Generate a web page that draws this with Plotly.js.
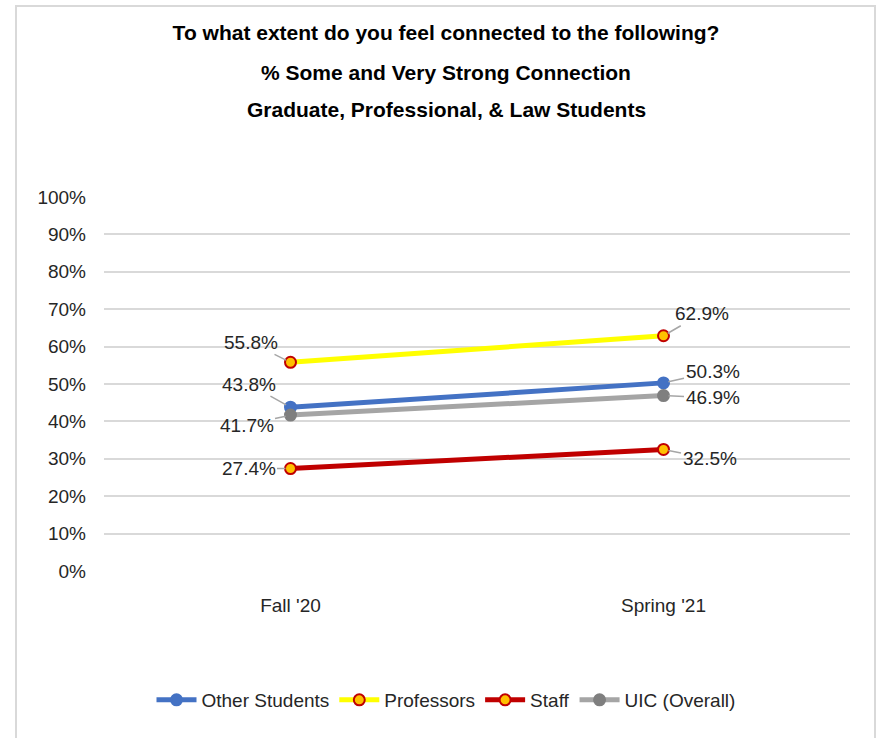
<!DOCTYPE html>
<html>
<head>
<meta charset="utf-8">
<script src="https://cdn.plot.ly/plotly-3.0.1.min.js"></script>
<style>html,body{margin:0;padding:0;background:#fff;}#chart{width:876px;height:738px;}</style>
</head>
<body>
<div id="chart"></div>
<script>
const categories = ["Fall '20", "Spring '21"];
const seriesNames = ["Other Students", "Professors", "Staff", "UIC (Overall)"];
const otherStudents = [43.8, 50.3];
const professors = [55.8, 62.9];
const staff = [27.4, 32.5];
const uicOverall = [41.7, 46.9];
const yTickVals = [0,10,20,30,40,50,60,70,80,90,100];
const yTickText = ["0%","10%","20%","30%","40%","50%","60%","70%","80%","90%","100%"];

const FONT = "'Liberation Sans', Arial, sans-serif";

const styles = [
  {line:'#4472C4', mfill:'#4472C4', mline:'#4472C4'},
  {line:'#FFFF00', mfill:'#FFC000', mline:'#C00000'},
  {line:'#C00000', mfill:'#FFC000', mline:'#C00000'},
  {line:'#A5A5A5', mfill:'#7F7F7F', mline:'#7F7F7F'}
];
const allValues = [otherStudents, professors, staff, uicOverall];
const traces = allValues.map((vals, i) => ({
  type:'scatter', mode:'lines+markers', name: seriesNames[i],
  x: categories, y: vals,
  line:{color:styles[i].line, width:5},
  marker:{size:11, color:styles[i].mfill, line:{color:styles[i].mline, width:2}},
  hoverinfo:'skip'
}));

const labelOffsets = {
  0: [[-42,-23],[49,-11]],
  1: [[-40,-20],[38,-22]],
  2: [[-42,0],[46,9]],
  3: [[-44,10],[49,2]]
};
const annotations = [];
allValues.forEach((vals, i) => {
  vals.forEach((v, j) => {
    annotations.push({
      x: categories[j], y: v, xref:'x', yref:'y',
      text: v.toFixed(1) + '%',
      showarrow:true, arrowhead:0, arrowwidth:1.5, arrowcolor:'#A6A6A6',
      standoff:5, startstandoff:0,
      ax: labelOffsets[i][j][0], ay: labelOffsets[i][j][1],
      font:{family:FONT, size:19, color:'#262626'}
    });
  });
});
const subtitleLines = ["% Some and Very Strong Connection", "Graduate, Professional, &amp; Law Students"];
const cx = (446-104)/746;
annotations.push({xref:'paper', yref:'paper', x:cx, y:1+(196-72)/376, xanchor:'center', yanchor:'middle', showarrow:false,
  text:'<b>'+subtitleLines[0]+'</b>', font:{family:FONT, size:21, color:'#000'}});
annotations.push({xref:'paper', yref:'paper', x:cx, y:1+(196-110)/376, xanchor:'center', yanchor:'middle', showarrow:false,
  text:'<b>'+subtitleLines[1]+'</b>', font:{family:FONT, size:21, color:'#000'}});

const layout = {
  width:876, height:738,
  margin:{l:104, r:26, t:196, b:166},
  paper_bgcolor:'#fff', plot_bgcolor:'#fff',
  title:{text:'<b>To what extent do you feel connected to the following?</b>', x:cx, xref:'paper', xanchor:'center', y:1-33/738, yanchor:'middle',
    font:{family:FONT, size:21, color:'#000'}},
  font:{family:FONT, size:19, color:'#262626'},
  xaxis:{type:'category', range:[-0.5,1.5], showgrid:false, zeroline:false, showline:false, ticks:'',
    tickfont:{family:FONT, size:19, color:'#262626'}, ticklabelstandoff:20},
  yaxis:{range:[-0.25,100.25], tickvals:yTickVals, ticktext:yTickText, showgrid:true, gridcolor:'#D9D9D9', gridwidth:2,
    zeroline:false, showline:false, ticks:'', ticklabelstandoff:17,
    tickfont:{family:FONT, size:19, color:'#262626'}},
  showlegend:true,
  legend:{orientation:'h', x:cx, xanchor:'center', y:1-(700-196)/376, yanchor:'middle',
    font:{family:FONT, size:19, color:'#262626'}, itemwidth:40, tracegroupgap:0, bgcolor:'rgba(0,0,0,0)'},
  annotations: annotations,
  shapes:[{type:'rect', xref:'paper', yref:'paper', x0:(16-104)/746, x1:(875-104)/746, y0:-0.6, y1:1+(196-6)/376,
    line:{color:'#D9D9D9', width:2}, fillcolor:'rgba(0,0,0,0)', layer:'below'}]
};
Plotly.newPlot('chart', traces, layout, {displayModeBar:false, staticPlot:true});
</script>
</body>
</html>
